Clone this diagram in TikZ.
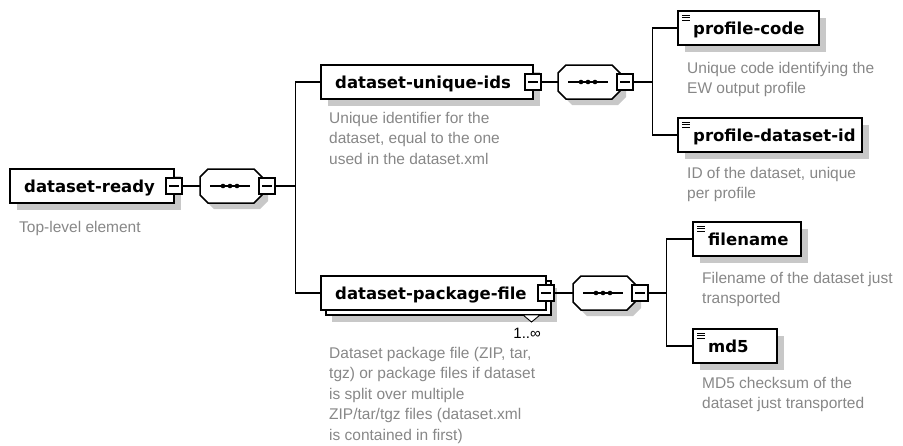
\documentclass[tikz,border=0pt]{standalone}
\usepackage{fontspec}
\setmainfont{Liberation Sans}
\newfontfamily\elemfont{DejaVu Sans}
\usepackage{tikz}
\usetikzlibrary{calc,positioning}
\definecolor{shadowgray}{RGB}{200,200,200}
\definecolor{descgray}{RGB}{135,135,135}
% box of a complex element with a collapse box on its right
\newcommand*{\xsdbody}[5]{\draw[elembox] (#1,#2) rectangle ++(#3,34);
  \node[elemtext] (#4) at (#1+14,#2+23) {#5};
  \coordinate (#4in) at (#1,#2+17);
  \node[minusbox] (#4m) at (#1+#3,#2+17) {};
}
\newcommand*{\xsdelem}[5]{\fill[shadowgray] (#1+7,#2+7) rectangle ++(#3,34);
  \xsdbody{#1}{#2}{#3}{#4}{#5}
}
% same, but 1..unbounded (a second box behind)
\newcommand*{\xsdmulti}[5]{\fill[shadowgray] (#1+11,#2+12) rectangle ++(#3,34);
  \draw[elembox] (#1+5,#2+5) rectangle ++(#3,34);
  \xsdbody{#1}{#2}{#3}{#4}{#5}
}
% simple element (leaf) with the text icon
\newcommand*{\xsdleaf}[5]{\fill[shadowgray] (#1+7,#2+7) rectangle ++(#3,34);
  \draw[elembox] (#1,#2) rectangle ++(#3,34);
  \foreach \l in {4,6.5,9} \draw[line width=0.9pt] (#1+4,#2+\l) -- (#1+12,#2+\l);
  \node[elemtext] (#4) at (#1+15,#2+23) {#5};
  \coordinate (#4in) at (#1,#2+17);
}
\newcommand*{\seqpath}[2]{(#1,#2-9) -- (#1+8,#2-17) -- (#1+54,#2-17) -- (#1+62,#2-9)
  -- (#1+62,#2+9) -- (#1+54,#2+17) -- (#1+8,#2+17) -- (#1,#2+9) -- cycle}
% sequence compositor
\newcommand*{\xsdseq}[3]{\fill[shadowgray] \seqpath{#1+6}{#2+6};
  \draw[elembox] \seqpath{#1}{#2};
  \draw[line width=1.2pt] (#1+10,#2) -- (#1+50,#2);
  \foreach \d in {23,30,37} \fill (#1+\d,#2) circle (2.3);
  \coordinate (#3in) at (#1,#2);
  \node[minusbox] (#3m) at (#1+67,#2) {};
}

\begin{document}
\begin{tikzpicture}[x=1pt,y=-1pt]
\tikzstyle{elembox}=[draw,fill=white,line width=1.5pt]
\tikzstyle{elemtext}=[anchor=base west,inner sep=0pt,font={\elemfont\fontsize{16.5}{20}\selectfont\bfseries}]
\tikzstyle{minusbox}=[draw,fill=white,line width=1.3pt,minimum size=16pt,inner sep=0pt,
  path picture={\draw[line width=1.2pt] ([xshift=3pt]path picture bounding box.west)
  -- ([xshift=-3pt]path picture bounding box.east);}]
\tikzstyle{desc}=[anchor=north west,inner sep=0pt,align=left,text=descgray,font={\fontsize{15.5}{20.5}\selectfont}]
\tikzstyle{conn}=[line width=1.3pt]
\useasboundingbox (0,0) rectangle (903,445);

\xsdelem{10}{169}{164}{ready}{dataset-ready}
\xsdseq{200}{186}{seqA}
\xsdelem{321}{65}{212}{uniq}{dataset-unique-ids}
\xsdseq{558}{82}{seqB}
\xsdmulti{321}{276}{225}{pkg}{dataset-package-file}
\xsdseq{573}{293}{seqC}
\xsdleaf{678}{11}{141}{pcode}{profile-code}
\xsdleaf{678}{118}{184}{pdsid}{profile-dataset-id}
\xsdleaf{693}{222}{108}{fname}{filename}
\xsdleaf{693}{329}{84}{md5}{md5}

% occurrence of dataset-package-file
\draw[line width=0.9pt,fill=white] (523,315) coordinate (occ) -- ++(17,0) -- ++(-8.5,7) -- cycle;
\node[anchor=base east,inner sep=0pt,font={\fontsize{15}{17}\selectfont}] (occtext) at (541,338) {1..∞};

\node[desc] (readyd) at (19,221) {Top-level element};
\node[desc] (uniqd) at (329,112) {Unique identifier for the\\dataset, equal to the one\\used in the dataset.xml};
\node[desc] (pkgd) at (329,347) {Dataset package file (ZIP, tar,\\tgz) or package files if dataset\\is split over multiple\\ZIP/tar/tgz files (dataset.xml\\is contained in first)};
\node[desc] (pcoded) at (687,62) {Unique code identifying the\\EW output profile};
\node[desc] (pdsidd) at (687,167) {ID of the dataset, unique\\per profile};
\node[desc] (fnamed) at (702,272) {Filename of the dataset just\\transported};
\node[desc] (md5d) at (702,377) {MD5 checksum of the\\dataset just transported};

\draw[conn] (readym) -- (seqAin);
\draw[conn] (seqAm.east) -- ++(20,0) coordinate (busA);
\draw[conn] (busA) |- (uniqin);
\draw[conn] (busA) |- (pkgin);

\draw[conn] (uniqm) -- (seqBin);
\draw[conn] (seqBm.east) -- ++(19,0) coordinate (busB);
\draw[conn] (busB) |- (pcodein);
\draw[conn] (busB) |- (pdsidin);

\draw[conn] (pkgm) -- (seqCin);
\draw[conn] (seqCm.east) -- ++(18,0) coordinate (busC);
\draw[conn] (busC) |- (fnamein);
\draw[conn] (busC) |- (md5in);

\end{tikzpicture}
\end{document}
